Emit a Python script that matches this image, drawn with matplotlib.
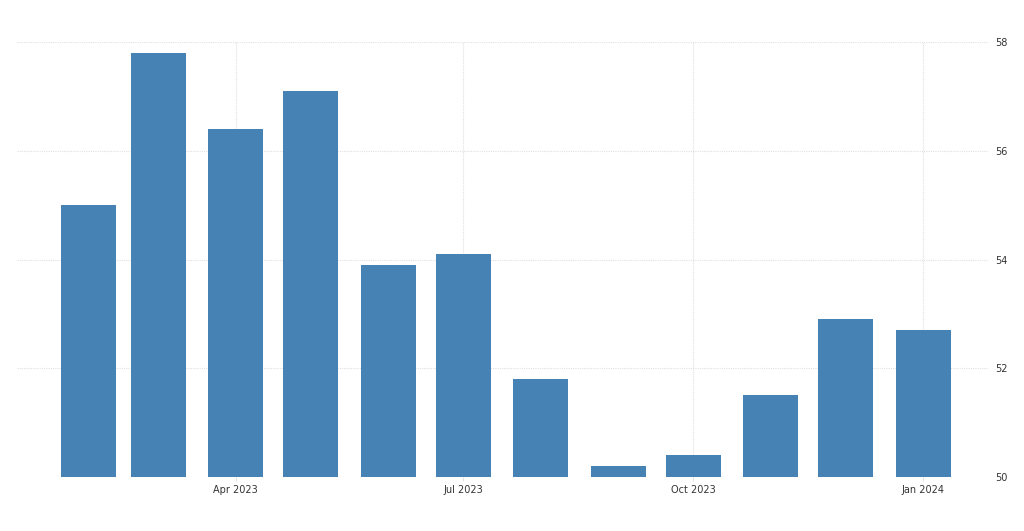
import matplotlib
matplotlib.use("Agg")
import matplotlib.pyplot as plt
import datetime as dt

months = ["2023-02", "2023-03", "2023-04", "2023-05", "2023-06", "2023-07",
          "2023-08", "2023-09", "2023-10", "2023-11", "2023-12", "2024-01"]
values = [55.0, 57.8, 56.4, 57.1, 53.9, 54.1, 51.8, 50.2, 50.4, 51.5, 52.9, 52.7]
y_ticks = [50, 52, 54, 56, 58]
x_tick_months = ["2023-04", "2023-07", "2023-10", "2024-01"]
x_tick_labels = ["Apr 2023", "Jul 2023", "Oct 2023", "Jan 2024"]

dates = [dt.datetime.strptime(m, "%Y-%m") for m in months]
tick_dates = [dt.datetime.strptime(m, "%Y-%m") for m in x_tick_months]

fig = plt.figure(figsize=(10.24, 5.31), dpi=100)
ax = fig.add_axes([17 / 1024, 54 / 531, 971 / 1024, 435 / 531])

ax.bar(dates, [v - 50 for v in values], bottom=50, width=22, color="#4682b4", zorder=3)

ax.set_ylim(50, 58)
ax.set_xlim(dt.datetime(2023, 1, 3, 12), dt.datetime(2024, 1, 27))

ax.set_yticks(y_ticks)
ax.set_yticklabels([str(t) for t in y_ticks])
ax.yaxis.tick_right()
ax.set_xticks(tick_dates)
ax.set_xticklabels(x_tick_labels)

ax.tick_params(axis="y", length=0, pad=5, labelsize=7, labelcolor="#333333")
ax.tick_params(axis="x", length=3, width=0.6, color="#dddddd", pad=3, labelsize=7, labelcolor="#333333")

ax.grid(True, color="#e0e0e0", linestyle=(0, (1, 1)), linewidth=0.8, zorder=0)
for s in ax.spines.values():
    s.set_visible(False)

fig.savefig("out.png", dpi=100)
